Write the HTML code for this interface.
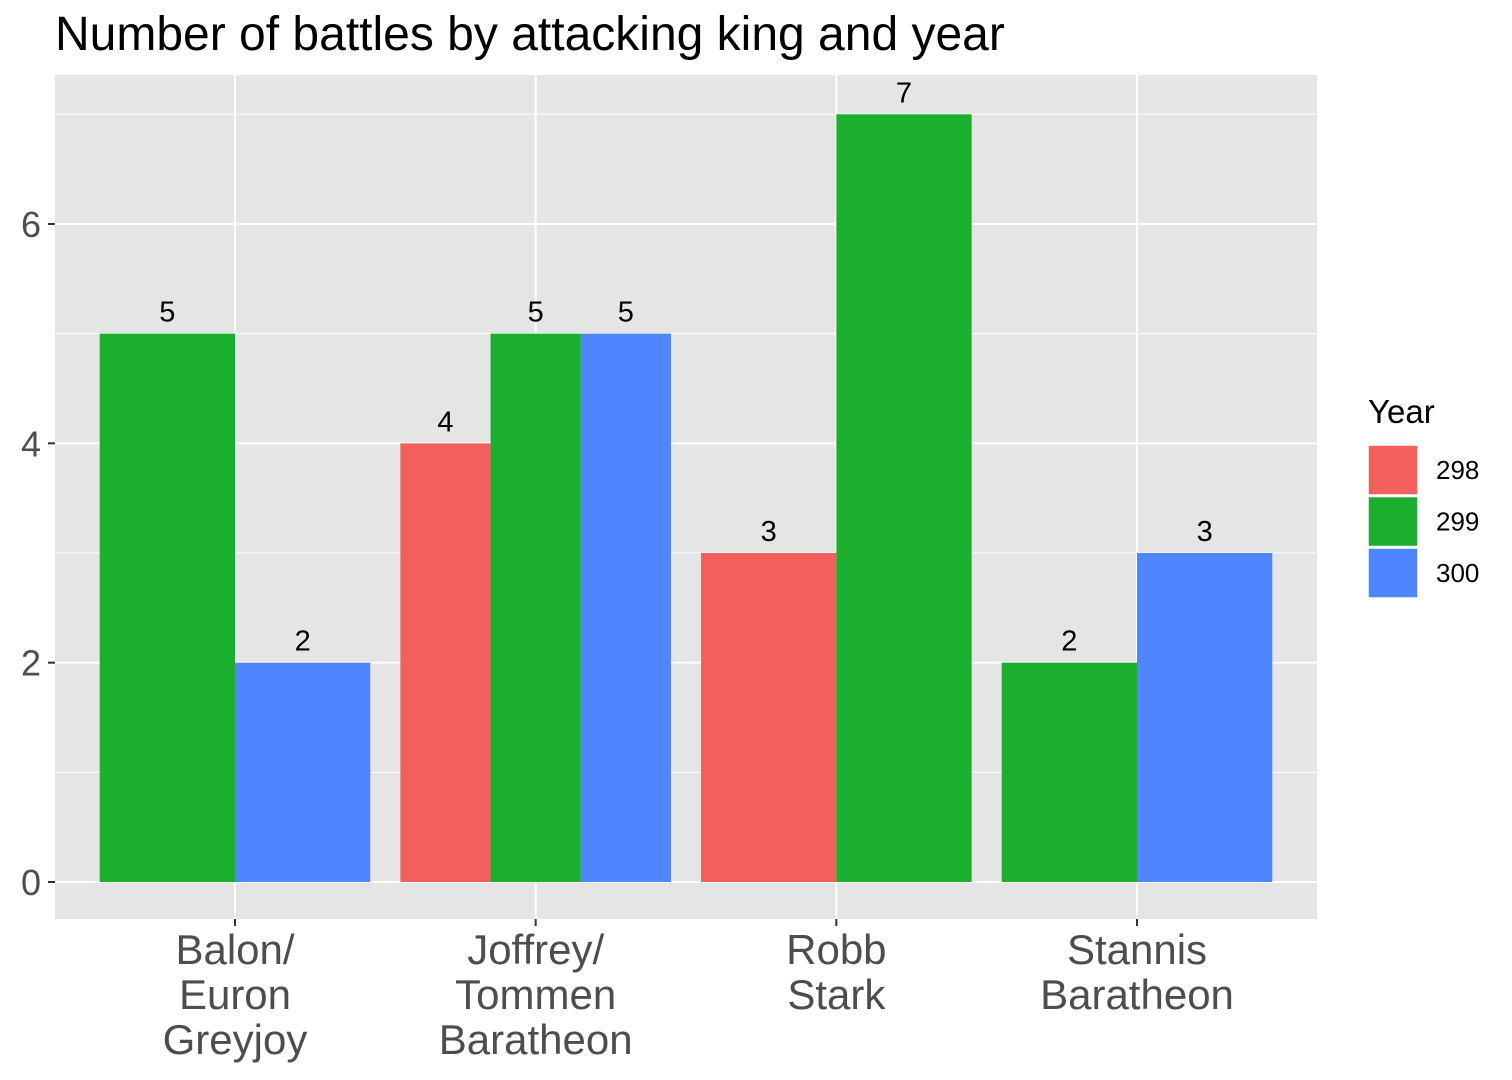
<!DOCTYPE html>
<html><head><meta charset="utf-8"><style>
body{margin:0;background:#fff;}
svg{display:block;font-family:"Liberation Sans",sans-serif;}
</style></head><body>
<svg id="chart" width="1512" height="1080">
<text x="55" y="50" font-size="48" fill="#000">Number of battles by attacking king and year</text>
<rect x="55" y="75" width="1262" height="844" fill="#e5e5e5"/>
<g id="grid"></g><g id="bars"></g><g id="axes"></g>
<g>
<text x="1368" y="423" font-size="33" fill="#000">Year</text>
<g id="legend"></g>
</g>
</svg>
<script>
const categories=[["Balon/","Euron","Greyjoy"],["Joffrey/","Tommen","Baratheon"],["Robb","Stark"],["Stannis","Baratheon"]];
const years=["298","299","300"];
const colors=["#F2605C","#1AAF2E","#4F86FF"];
const v298=[null,4,3,null];
const v299=[5,5,7,2];
const v300=[2,5,null,3];
const yTicks=[0,2,4,6];
const series=[v298,v299,v300];
const NS="http://www.w3.org/2000/svg";
function el(t,a,p){const e=document.createElementNS(NS,t);for(const k in a)e.setAttribute(k,a[k]);p.appendChild(e);return e;}
const y0=882,unit=109.67;
const ys=v=>y0-v*unit;
const xs=i=>235+i*300.67;
const band=300.67*0.9;
const grid=document.getElementById('grid'),bars=document.getElementById('bars'),axes=document.getElementById('axes'),leg=document.getElementById('legend');
for(let v=1;v<=7;v+=2){const l=el('line',{x1:55,x2:1317,y1:ys(v),y2:ys(v),stroke:'#fff','stroke-width':1},grid);
}
yTicks.forEach(v=>{const l=el('line',{x1:55,x2:1317,y1:ys(v),y2:ys(v),stroke:'#fff','stroke-width':2},grid);

const t=el('line',{x1:48,x2:55,y1:ys(v),y2:ys(v),stroke:'#333','stroke-width':2},axes);

const tx=el('text',{x:41,y:ys(v)+13,'font-size':36,fill:'#4d4d4d','text-anchor':'end'},axes);tx.textContent=v;
});
categories.forEach((c,i)=>{const x=xs(i);
const g=el('line',{x1:x,x2:x,y1:75,y2:919,stroke:'#fff','stroke-width':2},grid);

const t=el('line',{x1:x,x2:x,y1:919,y2:926,stroke:'#333','stroke-width':2},axes);

const tx=el('text',{'font-size':42,fill:'#4d4d4d','text-anchor':'middle'},axes);

c.forEach((line,j)=>{const ts=el('tspan',{x:x,y:964+j*45},tx);ts.textContent=line;});
const present=[];series.forEach((s,k)=>{if(s[i]!=null)present.push(k);});
const w=band/present.length;const left=x-band/2;
present.forEach((k,j)=>{const v=series[k][i];const bx=left+j*w;
const r=el('rect',{x:bx,y:ys(v),width:w,height:ys(0)-ys(v),fill:colors[k]},bars);

const lb=el('text',{x:bx+w/2,y:ys(v)-12,'font-size':29,fill:'#000','text-anchor':'middle'},bars);lb.textContent=v;
});
});
years.forEach((yr,k)=>{const yy=445+k*51.5;
const r=el('rect',{x:1368,y:yy,width:50,height:50,fill:colors[k],stroke:'#fff','stroke-width':1.5},leg);

const t=el('text',{x:1436,y:yy+34,'font-size':26,fill:'#000'},leg);t.textContent=yr;
});
</script>
</body></html>
